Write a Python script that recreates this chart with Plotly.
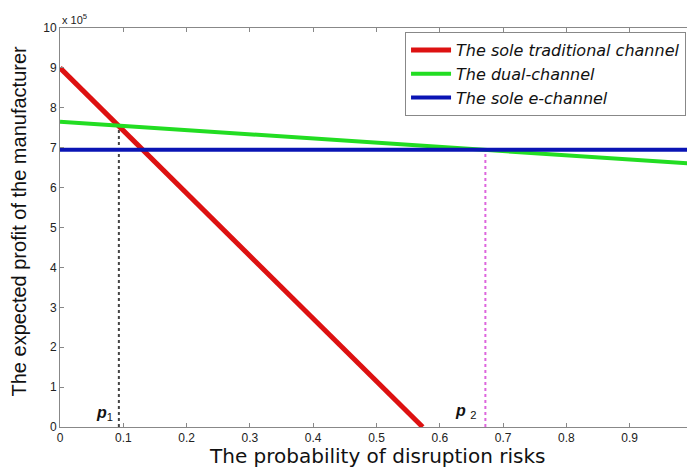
import plotly.graph_objects as go

# Data (profit in units of 10^5)
prob = [0.0, 1.0]
red_x = [0.0, 0.573]
red_y = [9.0, 0.0]
green_y = [7.65, 6.60]
blue_y = [6.95, 6.95]
p1_x = [0.093, 0.093]
p1_y = [0.0, 7.55]
p2_x = [0.672, 0.672]
p2_y = [0.0, 6.95]
series_names = ["The sole traditional channel", "The dual-channel", "The sole e-channel"]
x_ticks = [0, 0.1, 0.2, 0.3, 0.4, 0.5, 0.6, 0.7, 0.8, 0.9, 1]
x_labels = ["0", "0.1", "0.2", "0.3", "0.4", "0.5", "0.6", "0.7", "0.8", "0.9", "1"]
y_ticks = list(range(0, 11))

font = "Liberation Sans, Arial, sans-serif"
wide = "DejaVu Sans, Verdana, sans-serif"
fig = go.Figure()
fig.add_trace(go.Scatter(x=p1_x, y=p1_y, mode="lines", showlegend=False,
                         line=dict(color="#444444", width=2, dash="dot")))
fig.add_trace(go.Scatter(x=p2_x, y=p2_y, mode="lines", showlegend=False,
                         line=dict(color="#dd66dd", width=2, dash="dot")))
fig.add_trace(go.Scatter(x=red_x, y=red_y, mode="lines", name="<i>" + series_names[0] + "</i>",
                         line=dict(color="#dd1111", width=5)))
fig.add_trace(go.Scatter(x=prob, y=green_y, mode="lines", name="<i>" + series_names[1] + "</i>",
                         line=dict(color="#22dd22", width=4)))
fig.add_trace(go.Scatter(x=prob, y=blue_y, mode="lines", name="<i>" + series_names[2] + "</i>",
                         line=dict(color="#0a14b4", width=4)))

axis_common = dict(showgrid=False, zeroline=False, showline=True, linecolor="#888888",
                   linewidth=1, mirror="ticks", ticks="inside", ticklen=4, automargin=False,
                   tickcolor="#888888", tickfont=dict(family=font, size=12, color="#222222"))
fig.update_xaxes(range=[0, 1], tickvals=x_ticks, ticktext=x_labels, **axis_common)
fig.update_yaxes(range=[0, 10], tickvals=y_ticks, **axis_common)

fig.add_annotation(x=0.5, y=0, xref="paper", yref="paper", xanchor="center", yanchor="middle",
                   yshift=-29, text="The probability of disruption risks", showarrow=False,
                   font=dict(family=wide, size=20, color="#111111"))
fig.add_annotation(x=0, y=0.5, xref="paper", yref="paper", xanchor="center", yanchor="middle",
                   xshift=-42, yshift=6, textangle=-90,
                   text="The expected profit of the manufacturer", showarrow=False,
                   font=dict(family=font, size=20, color="#111111"))
fig.add_annotation(x=0, y=1, xref="paper", yref="paper", xanchor="left", yanchor="bottom",
                   text="x 10<sup>5</sup>", showarrow=False,
                   font=dict(family=font, size=11, color="#222222"), yshift=0)
fig.add_annotation(x=0.07, y=0.35, text="<b><i>p</i></b><sub>1</sub>", showarrow=False,
                   font=dict(family=font, size=16, color="#111111"))
fig.add_annotation(x=0.64, y=0.4, text="<b><i>p</i></b> <sub>2</sub>", showarrow=False,
                   font=dict(family=font, size=16, color="#111111"))

fig.update_layout(
    width=687, height=461,
    margin=dict(l=52, r=2, t=20, b=42),
    paper_bgcolor="white", plot_bgcolor="white",
    legend=dict(x=0.989, y=0.99, xanchor="right", yanchor="top",
                bgcolor="white", bordercolor="#888888", borderwidth=1,
                font=dict(family=wide, size=16, color="#111111"),
                tracegroupgap=0, itemwidth=40),
)
fig.write_html("out.html")
